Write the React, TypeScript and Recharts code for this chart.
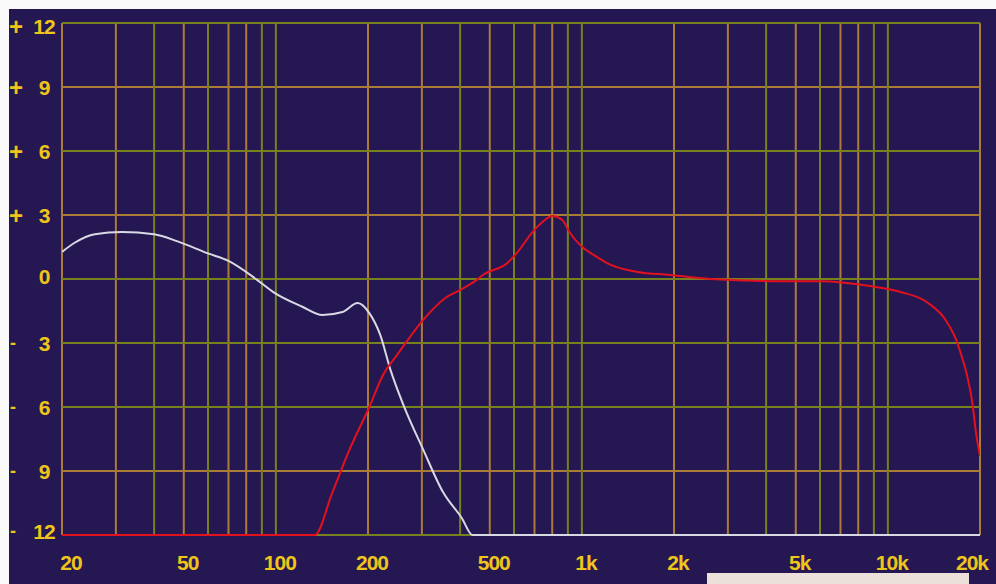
import React from 'react';
import { CartesianGrid, Line, LineChart, XAxis, YAxis } from 'recharts';

// frequency response of the two drivers (Hz / dB)
const wooferFreq = [20, 22, 25.6, 31.4, 40, 48, 60, 70, 87, 99, 122, 142, 165, 185, 202, 219, 237, 261, 303, 352, 405, 439, 20000];
const wooferDb = [1.27, 1.7, 2.1, 2.2, 2.1, 1.75, 1.2, 0.85, -0.05, -0.65, -1.3, -1.69, -1.55, -1.13, -1.6, -2.6, -4.27, -5.9, -8.0, -10.0, -11.2, -12, -12];

const tweeterFreq = [20, 134, 153, 174, 202, 224, 249, 267, 303, 357, 399, 453, 475, 571, 613, 690, 743, 801, 863, 910, 1002, 1082, 1243, 1519, 1943, 2630, 4697, 6031, 8740, 10932, 13394, 15570, 16770, 17400, 18060, 18880, 19450, 20000];
const tweeterDb = [-12, -12, -10, -8, -6, -4.5, -3.56, -2.95, -1.92, -0.9, -0.52, -0.05, 0.19, 0.75, 1.22, 2.2, 2.67, 2.95, 2.77, 2.2, 1.5, 1.17, 0.66, 0.33, 0.19, 0, -0.1, -0.1, -0.33, -0.6, -1.08, -2.0, -2.9, -3.6, -4.4, -5.8, -7.3, -8.3];

const freqTicks = [20, 50, 100, 200, 500, 1000, 2000, 5000, 10000, 20000];
const freqLabels = ['20', '50', '100', '200', '500', '1k', '2k', '5k', '10k', '20k'];
const dbTicks = [-12, -9, -6, -3, 0, 3, 6, 9, 12];

// grid lines: the scan alternates two colours
const orangeFreqGrid = [20, 30, 50, 70, 80, 200, 300, 500, 700, 800, 2000, 3000, 5000, 7000, 8000, 20000];
const oliveFreqGrid = [40, 60, 90, 100, 400, 600, 900, 1000, 4000, 6000, 9000, 10000];
const orangeDbGrid = [9, 3, -9];
const oliveDbGrid = [12, 6, 0, -3, -6, -12];

const BG = '#251752';
const ORANGE = '#ab7b38';
const OLIVE = '#77811f';
const YELLOW = '#efc51a';
const FONT = '"Liberation Sans", Arial, sans-serif';

const wooferData = wooferFreq.map((f, i) => ({ f, db: wooferDb[i] }));
const tweeterData = tweeterFreq.map((f, i) => ({ f, db: tweeterDb[i] }));

const XTick = (props: any) => {
  const { x, y, payload } = props;
  const idx = freqTicks.indexOf(payload.value);
  let dx = 4;
  if (idx === 0) dx = 9;
  if (idx === freqTicks.length - 1) dx = -8;
  return (
    <text
      x={x + dx}
      y={y + 19}
      textAnchor="middle"
      dominantBaseline="central"
      fill={YELLOW}
      fontFamily={FONT}
      fontWeight="bold"
      fontSize={21}
      letterSpacing={-1}
    >
      {freqLabels[idx]}
    </text>
  );
};

const YTick = (props: any) => {
  const { y, payload } = props;
  const v = payload.value as number;
  let dy = 0;
  if (v === 12) dy = 3;
  if (v === -12) dy = -4;
  if (v === 0) dy = -3;
  const sign = v > 0 ? '+' : v < 0 ? '-' : '';
  return (
    <g>
      {sign && (
        <text
          x={sign === '+' ? 0 : 1}
          y={y + dy}
          dominantBaseline="central"
          fill={YELLOW}
          fontFamily={FONT}
          fontWeight="bold"
          fontSize={sign === '+' ? 24 : 18}
        >
          {sign}
        </text>
      )}
      <text
        x={35}
        y={y + dy}
        textAnchor="middle"
        dominantBaseline="central"
        fill={YELLOW}
        fontFamily={FONT}
        fontWeight="bold"
        fontSize={21}
        letterSpacing={-1}
      >
        {Math.abs(v)}
      </text>
    </g>
  );
};

export default function App() {
  return (
    <div style={{ position: 'absolute', left: 0, top: 0, width: 996, height: 584, background: '#fafafa', overflow: 'hidden' }}>
      <div style={{ position: 'absolute', left: 9, top: 9, width: 987, height: 575, background: BG }}>
        <LineChart width={987} height={575} margin={{ top: 14, right: 16, left: 0, bottom: 0 }}>
          <CartesianGrid stroke={ORANGE} strokeWidth={2} verticalValues={orangeFreqGrid} horizontalValues={orangeDbGrid} />
          <CartesianGrid stroke={OLIVE} strokeWidth={2} verticalValues={oliveFreqGrid} horizontalValues={oliveDbGrid} />
          <XAxis
            dataKey="f"
            type="number"
            scale="log"
            domain={[20, 20000]}
            ticks={freqTicks}
            allowDataOverflow
            axisLine={false}
            tickLine={false}
            height={49}
            tick={<XTick />}
            interval={0}
          />
          <YAxis
            type="number"
            domain={[-12, 12]}
            ticks={dbTicks}
            axisLine={false}
            tickLine={false}
            width={53}
            tick={<YTick />}
            interval={0}
          />
          <Line
            data={wooferData}
            dataKey="db"
            type="monotone"
            stroke="#d9d9e4"
            strokeWidth={2}
            dot={false}
            isAnimationActive={false}
          />
          <Line
            data={tweeterData}
            dataKey="db"
            type="monotone"
            stroke="#e3101e"
            strokeWidth={2}
            dot={false}
            isAnimationActive={false}
          />
        </LineChart>
      </div>
      <div style={{ position: 'absolute', left: 707, top: 573, width: 262, height: 11, background: '#ebe0da' }} />
    </div>
  );
}
